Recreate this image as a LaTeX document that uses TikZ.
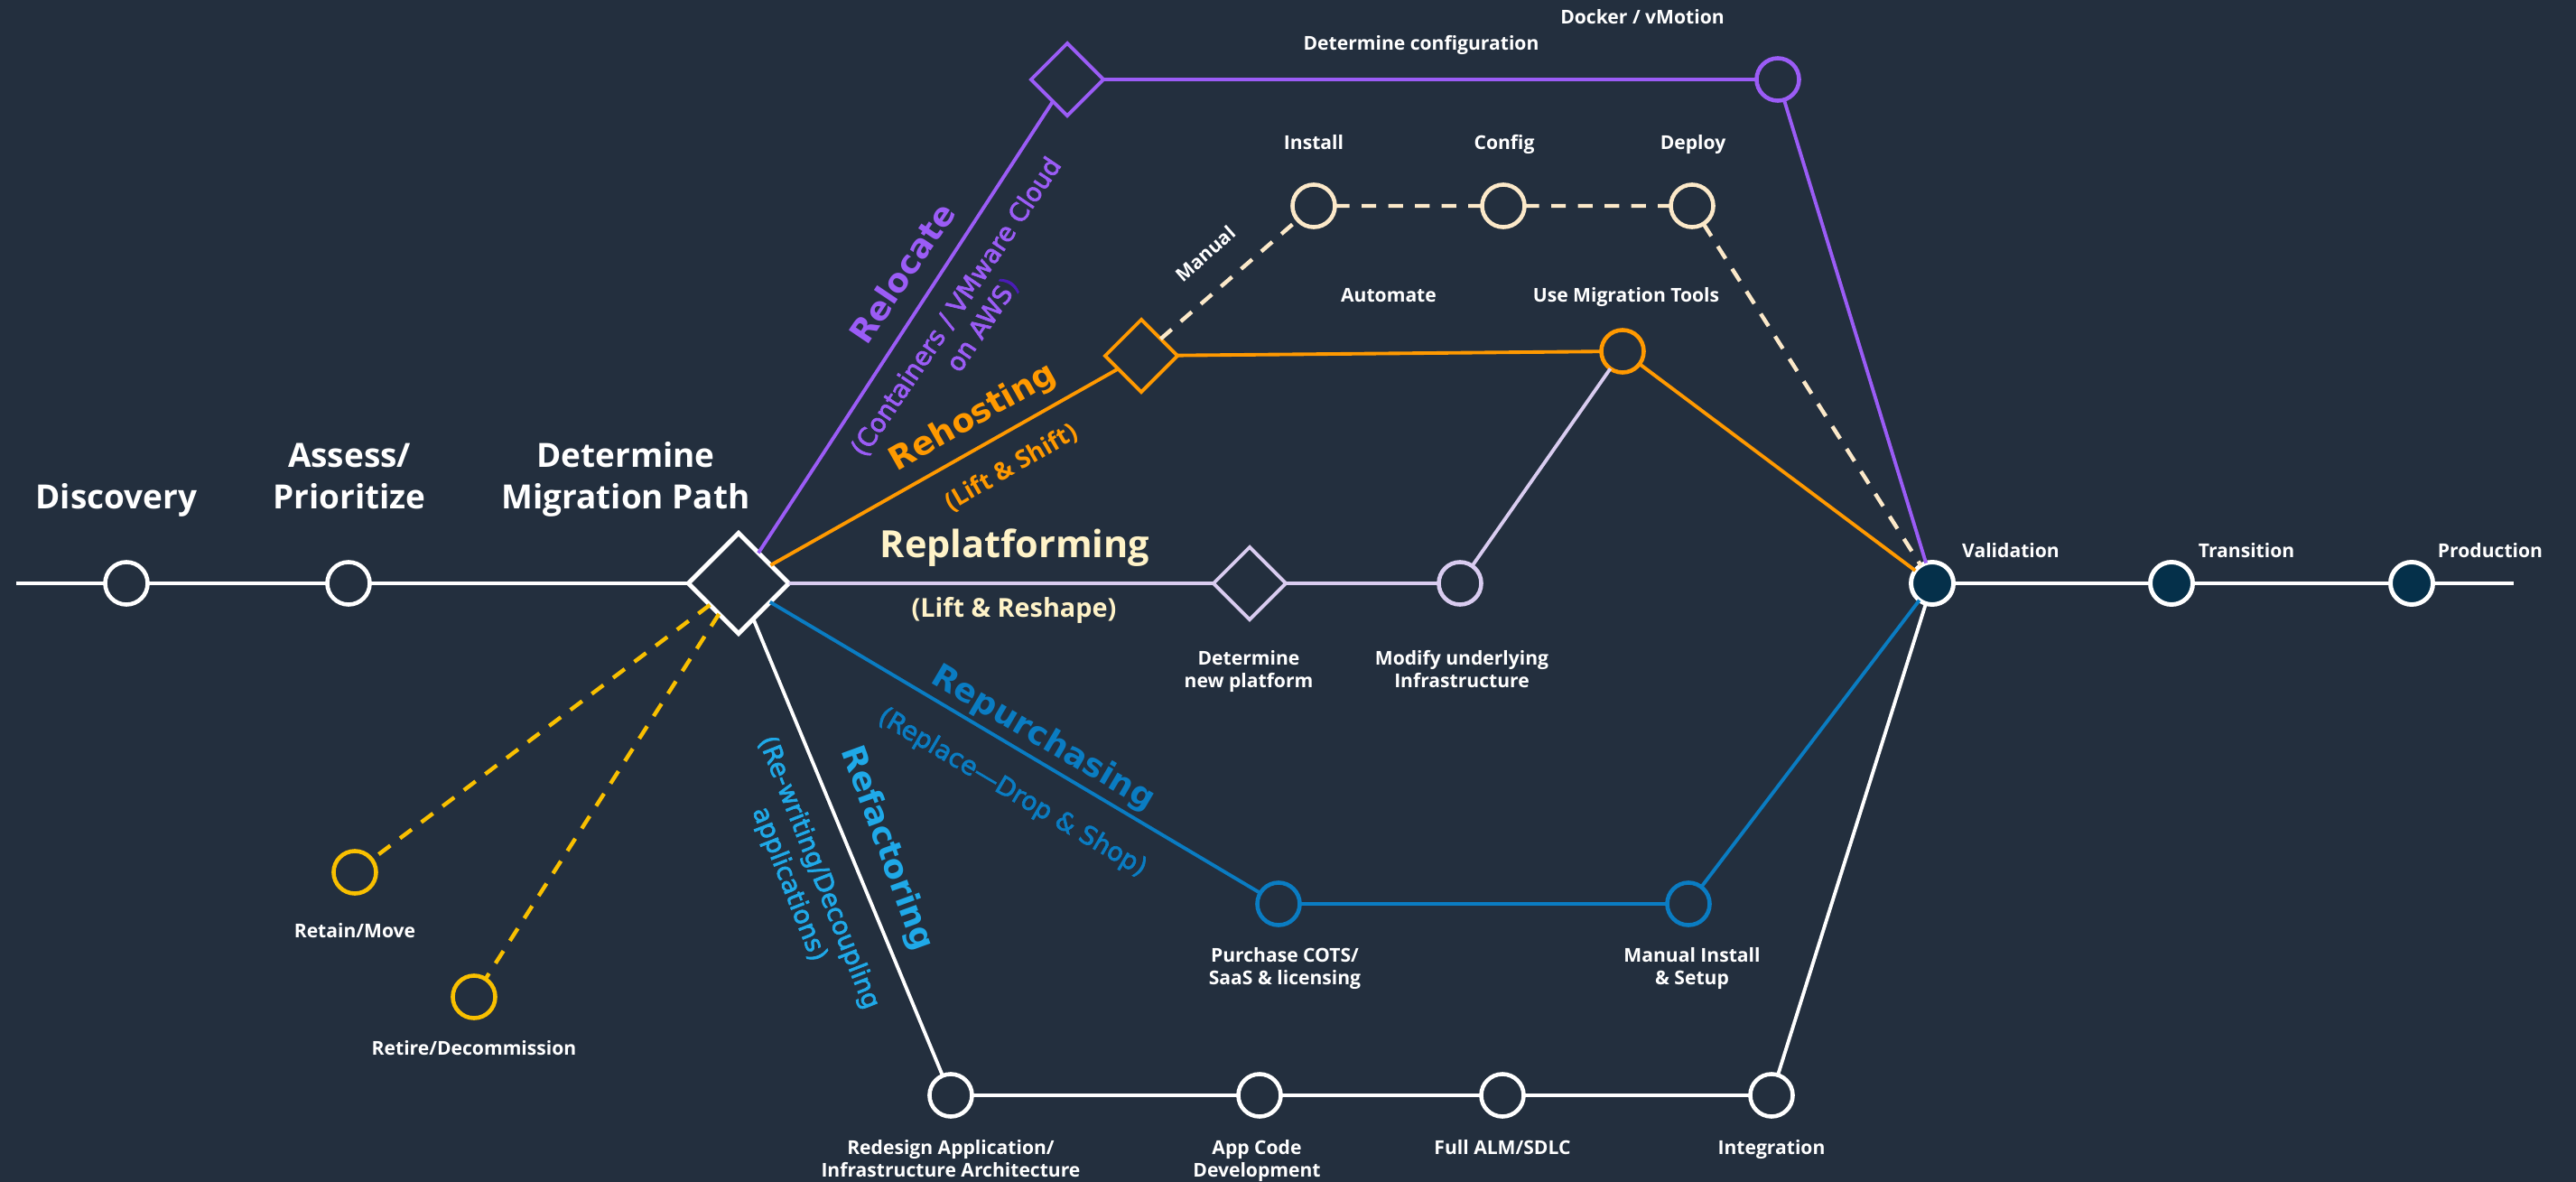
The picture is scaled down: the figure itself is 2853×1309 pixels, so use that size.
\documentclass[tikz,border=0pt]{standalone}
\usepackage{fontspec}
\setmainfont{Open Sans}
\newfontfamily\dvfont{DejaVu Sans}
\newfontfamily\dvsemi[FakeBold=2.6]{DejaVu Sans}
\usetikzlibrary{shapes.geometric}
\definecolor{bgc}{HTML}{232F3E}
\definecolor{purp}{HTML}{9B5CF6}
\definecolor{purpdark}{HTML}{4A1CB8}
\definecolor{orng}{HTML}{FF9900}
\definecolor{cream}{HTML}{FCE9C9}
\definecolor{creamtxt}{HTML}{FFF3C8}
\definecolor{lav}{HTML}{D9CCF0}
\definecolor{blu}{HTML}{0A7CC2}
\definecolor{lblu}{HTML}{1FA9E8}
\definecolor{yel}{HTML}{F9C000}
\definecolor{darkfill}{HTML}{05304A}
\newcommand\myHead{\fontsize{10.5pt}{12.8pt}\selectfont\bfseries}
\newcommand\mySmall{\fontsize{6pt}{7.1pt}\selectfont\bfseries}
\newcommand\myBig{\dvfont\fontsize{10.3pt}{12pt}\selectfont\bfseries}
\newcommand\myPar{\dvsemi\fontsize{8pt}{10pt}\selectfont}
\begin{document}
\begin{tikzpicture}[x={(0.01cm,0)},y={(0,-0.01cm)},
  circ/.style={circle,draw=#1,line width=1.3pt,fill=bgc,minimum size=0.47cm,inner sep=0pt,outer sep=0pt},
  fcirc/.style={circle,draw=white,line width=1.4pt,fill=darkfill,minimum size=0.47cm,inner sep=0pt,outer sep=0pt},
  dia/.style={diamond,aspect=1,draw=#1,line width=1.1pt,fill=bgc,minimum size=0.80cm,inner sep=0pt,outer sep=0pt},
  bigdia/.style={diamond,aspect=1,draw=white,line width=1.4pt,fill=bgc,minimum size=1.11cm,inner sep=0pt,outer sep=0pt},
  ln/.style={line width=1.1pt},
  mainln/.style={line width=1.3pt,white},
  dsh/.style={line width=1.25pt,dash pattern=on 4.6pt off 3.8pt},
  lbl/.style={text=white,font=\mySmall,align=center,anchor=base,inner sep=0pt},
  head/.style={text=white,font=\myHead,align=center,anchor=base,inner sep=0pt},
  rot/.style={inner sep=0pt,anchor=center,align=center}]
\fill[bgc] (0,0) rectangle (2853,1309);
\useasboundingbox (0,0) rectangle (2853,1309);

% ---------- nodes ----------
\coordinate (start) at (18,646);
\coordinate (end) at (2784,646);
\node[circ=white] (disc) at (140,646) {};
\node[circ=white] (assess) at (386,646) {};
\node[bigdia] (dmp) at (818,646) {};

\node[dia=purp] (purpD) at (1182,88) {};
\node[circ=purp] (docker) at (1969,88) {};

\node[dia=orng] (rehostD) at (1264,394) {};
\node[circ=cream] (install) at (1455,228) {};
\node[circ=cream] (config) at (1665,228) {};
\node[circ=cream] (deploy) at (1874,228) {};
\node[circ=orng] (migtools) at (1797,389) {};

\node[dia=lav] (replatD) at (1384,646) {};
\node[circ=lav] (modify) at (1617,646) {};

\node[circ=blu] (purchase) at (1416,1001) {};
\node[circ=blu] (manualinst) at (1870,1001) {};

\node[circ=white] (redesign) at (1053,1213) {};
\node[circ=white] (appcode) at (1395,1213) {};
\node[circ=white] (fullalm) at (1664,1213) {};
\node[circ=white] (integ) at (1962,1213) {};

\node[circ=yel] (retain) at (393,966) {};
\node[circ=yel] (retire) at (525,1104) {};

\node[fcirc] (valid) at (2140,646) {};
\node[fcirc] (trans) at (2405,646) {};
\node[fcirc] (prod) at (2671,646) {};

% ---------- connectors ----------
\draw[mainln] (start) -- (disc) -- (assess) -- (dmp);
\draw[mainln] (valid) -- (trans) -- (prod) -- (end);
\draw[ln,purp] (dmp) -- (purpD) -- (docker) -- (valid);
\draw[ln,orng] (dmp) -- (rehostD) -- (migtools) -- (valid);
\draw[dsh,cream] (rehostD) -- (install) -- (config) -- (deploy) -- (valid);
\draw[ln,lav] (dmp) -- (replatD) -- (modify) -- (migtools);
\draw[ln,blu] (dmp) -- (purchase) -- (manualinst) -- (valid);
\draw[ln,white] (dmp) -- (redesign) -- (appcode) -- (fullalm) -- (integ) -- (valid);
\draw[dsh,yel] (dmp) -- (retain);
\draw[dsh,yel] (dmp) -- (retire);

% ---------- headings ----------
\node[head] (tdisc) at (129,563) {Discovery};
\node[head] (tassess) at (387,563) {Assess/\\Prioritize};
\node[head] (tdmp) at (693,563) {Determine\\Migration Path};

% ---------- path labels ----------
\node[rot,text=purp,font=\myBig,rotate=56] (trelocate) at (999,302) {Relocate};
\node[rot,text=purp,font=\myPar,rotate=56] (tcont) at (1074,350) {(Containers / VMware Cloud\\on AWS{\color{purpdark})}};
\node[rot,text=orng,font=\myBig,rotate=29.6] (trehost) at (1078,463) {Rehosting};
\node[rot,text=orng,font=\fontsize{7.8pt}{9pt}\selectfont\bfseries,rotate=30] (tliftshift) at (1120,518) {(Lift \& Shift)};
\node[text=creamtxt,font=\fontsize{11.8pt}{14pt}\selectfont\bfseries,anchor=base,inner sep=0pt] (treplat) at (1124,617) {Replatforming};
\node[text=creamtxt,font=\fontsize{8.2pt}{10pt}\selectfont\bfseries,anchor=base,inner sep=0pt] (tliftreshape) at (1123,683) {(Lift \& Reshape)};
\node[rot,text=blu,font=\myBig,rotate=-30.5] (trepurch) at (1155,818) {Repurchasing};
\node[rot,text=blu,font=\myPar,rotate=-30.5] (treplace) at (1121,878) {(Replace—Drop \& Shop)};
\node[rot,text=lblu,font=\myBig,rotate=-70] (trefact) at (982,940) {Refactoring};
\node[rot,text=lblu,font=\myPar,rotate=-68.5] (trewrite) at (890,973) {(Re-writing/Decoupling\\applications)};

% ---------- small labels ----------
\node[lbl] (tdetconf) at (1574,55) {Determine configuration};
\node[lbl] (tdocker) at (1819,27) {Docker / vMotion};
\node[lbl] (tinstall) at (1455,166) {Install};
\node[lbl] (tconfig) at (1666,166) {Config};
\node[lbl] (tdeploy) at (1875,166) {Deploy};
\node[rot,text=white,font=\mySmall,rotate=41.5] (tmanual) at (1335,281) {Manual};
\node[lbl] (tautomate) at (1538,334) {Automate};
\node[lbl] (tusemig) at (1801,334) {Use Migration Tools};
\node[lbl] (tvalid) at (2227,617) {Validation};
\node[lbl] (ttrans) at (2488,617) {Transition};
\node[lbl] (tprod) at (2758,617) {Production};
\node[lbl] (tdetnew) at (1383,761) {Determine\\new platform};
\node[lbl] (tmodify) at (1619,761) {Modify underlying\\Infrastructure};
\node[lbl] (tpurch) at (1423,1090) {Purchase COTS/\\SaaS \& licensing};
\node[lbl] (tmaninst) at (1874,1090) {Manual Install\\\& Setup};
\node[lbl] (tredesign) at (1053,1303) {Redesign Application/\\Infrastructure Architecture};
\node[lbl] (tappcode) at (1392,1303) {App Code\\Development};
\node[lbl] (tfullalm) at (1664,1278) {Full ALM/SDLC};
\node[lbl] (tinteg) at (1962,1278) {Integration};
\node[lbl] (tretain) at (393,1038) {Retain/Move};
\node[lbl] (tretire) at (525,1168) {Retire/Decommission};
\end{tikzpicture}
\end{document}
